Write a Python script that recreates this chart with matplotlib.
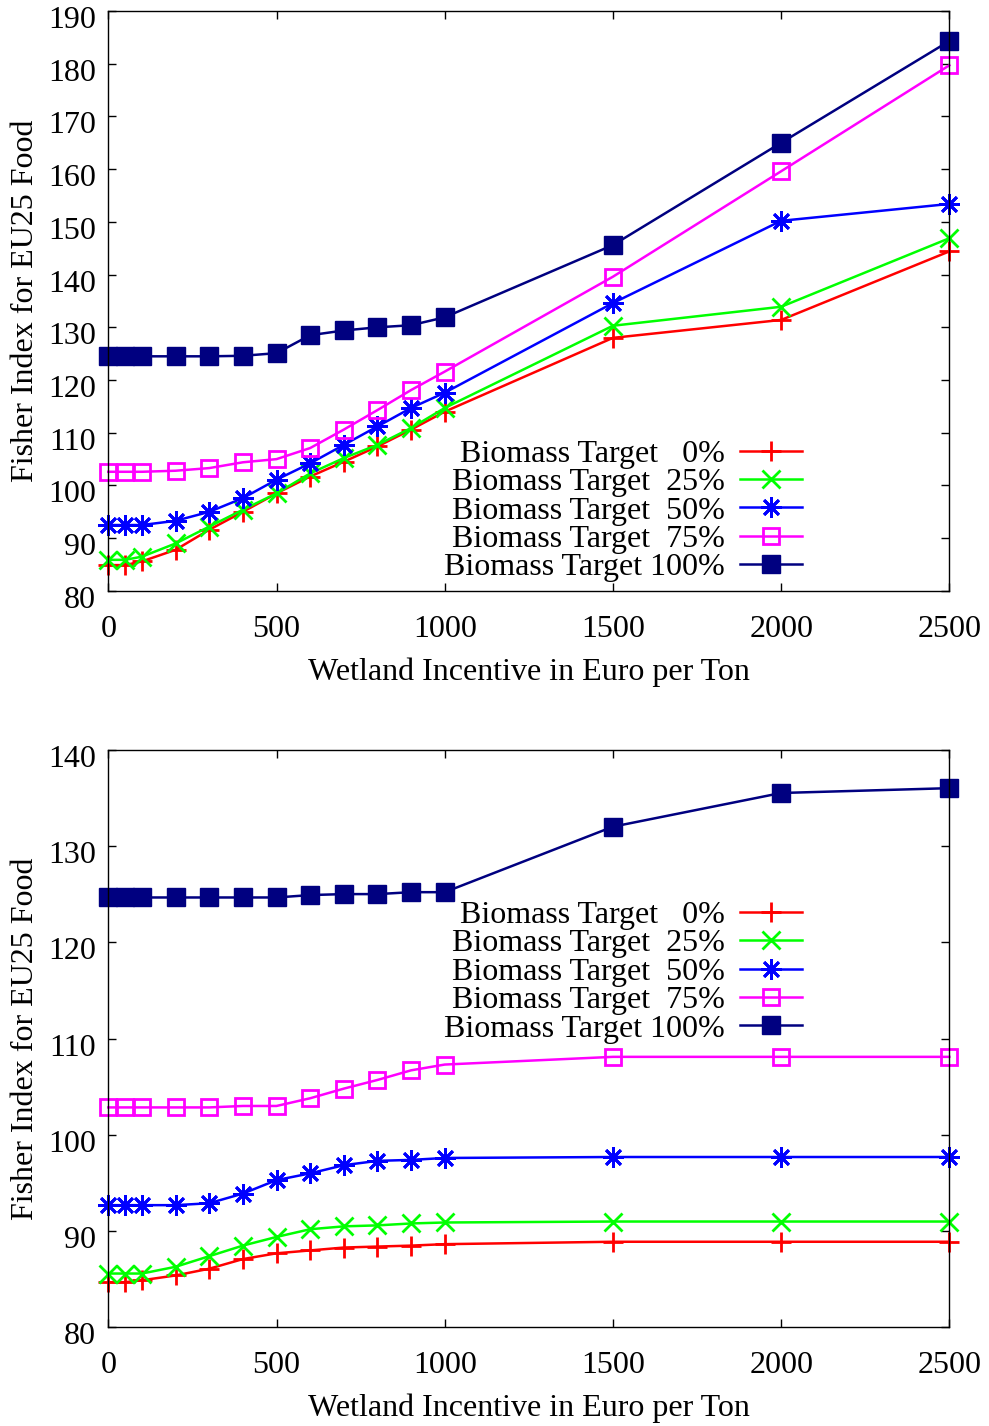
import numpy as np
import matplotlib
matplotlib.use("Agg")
import matplotlib.pyplot as plt
import matplotlib.transforms as mtransforms

plt.rcParams['font.family'] = ['Liberation Serif', 'DejaVu Serif']
plt.rcParams['font.size'] = 23

# wetland incentive (Euro per ton)
incentive = [0, 50, 100, 200, 300, 400, 500, 600, 700, 800, 900, 1000, 1500, 2000, 2500]

labels = ["Biomass Target   0%", "Biomass Target  25%", "Biomass Target  50%",
          "Biomass Target  75%", "Biomass Target 100%"]

# top panel
top_0 = [84.9, 84.9, 85.6, 87.8, 91.6, 95.0, 98.5, 101.7, 104.5, 107.4, 110.6, 114.0, 128.0, 131.4, 144.4]
top_25 = [85.9, 85.9, 86.5, 89.0, 92.2, 95.4, 98.5, 102.3, 105.2, 107.7, 110.9, 114.7, 130.3, 133.9, 146.9]
top_50 = [92.5, 92.5, 92.5, 93.3, 95.0, 97.6, 101.1, 104.2, 107.7, 111.2, 114.7, 117.6, 134.6, 150.2, 153.4]
top_75 = [102.6, 102.6, 102.6, 102.8, 103.3, 104.4, 105.0, 107.1, 110.6, 114.3, 118.1, 121.6, 139.6, 159.6, 179.7]
top_100 = [124.5, 124.5, 124.5, 124.5, 124.5, 124.6, 125.1, 128.5, 129.4, 130.0, 130.4, 131.9, 145.6, 165.0, 184.3]

# bottom panel
bot_0 = [84.7, 84.7, 84.9, 85.4, 86.1, 87.1, 87.7, 88.0, 88.3, 88.4, 88.5, 88.65, 88.9, 88.9, 88.9]
bot_25 = [85.6, 85.6, 85.6, 86.3, 87.4, 88.5, 89.4, 90.2, 90.5, 90.6, 90.8, 90.9, 91.0, 91.0, 91.0]
bot_50 = [92.7, 92.7, 92.7, 92.7, 92.9, 93.9, 95.3, 96.0, 96.85, 97.3, 97.4, 97.6, 97.7, 97.7, 97.7]
bot_75 = [102.85, 102.85, 102.85, 102.85, 102.85, 103.0, 103.0, 103.8, 104.8, 105.7, 106.7, 107.3, 108.1, 108.1, 108.1]
bot_100 = [124.65, 124.65, 124.65, 124.65, 124.65, 124.65, 124.65, 124.9, 125.0, 125.0, 125.2, 125.2, 132.0, 135.5, 136.0]

colors = ['#ff0000', '#00ff00', '#0000ff', '#ff00ff', '#000080']
styles = [
    dict(marker='+', markersize=15, markeredgewidth=2),
    dict(marker='x', markersize=13, markeredgewidth=2),
    dict(marker=(8, 2, 0), markersize=15, markeredgewidth=2),
    dict(marker='s', markersize=12, markeredgewidth=2, markerfacecolor='none'),
    dict(marker='s', markersize=13, markeredgewidth=1),
]


def draw_panel(fig, ax, series, ylim, yticks, legend_y):
    for vals, col, st, lab in zip(series, colors, styles, labels):
        ax.plot(incentive, vals, color=col, linewidth=1.8, label=lab,
                markeredgecolor=col, clip_on=False, **st)
    ax.set_xlim(0, 2500)
    ax.set_ylim(*ylim)
    ax.set_xticks([0, 500, 1000, 1500, 2000, 2500])
    ax.set_yticks(yticks)
    ax.tick_params(direction='in', length=6, width=1, top=True, right=True)
    ax.tick_params(axis='y', pad=9)
    ax.tick_params(axis='x', pad=17)
    # gnuplot places the y labels a little below their ticks
    shift = mtransforms.ScaledTranslation(0, -6 / 100, fig.dpi_scale_trans)
    for lbl in ax.get_yticklabels():
        lbl.set_transform(lbl.get_transform() + shift)
    for sp in ax.spines.values():
        sp.set_linewidth(1)
    ax.set_xlabel("Wetland Incentive in Euro per Ton", labelpad=10)
    ax.set_ylabel("Fisher Index for EU25 Food", labelpad=6)
    ax.legend(loc='center right', bbox_to_anchor=(0.825, legend_y), frameon=False,
              markerfirst=False, handlelength=1.95, handletextpad=0.47,
              labelspacing=-0.03, borderpad=0, borderaxespad=0)


fig = plt.figure(figsize=(9.89, 14.26), dpi=100)
ax1 = fig.add_axes([0.1095, 0.5856, 0.8504, 0.4067])
ax2 = fig.add_axes([0.1095, 0.0691, 0.8504, 0.4052])

draw_panel(fig, ax1, [top_0, top_25, top_50, top_75, top_100], (80, 190),
           np.arange(80, 191, 10), 0.138)
draw_panel(fig, ax2, [bot_0, bot_25, bot_50, bot_75, bot_100], (80, 140),
           np.arange(80, 141, 10), 0.615)

fig.savefig("out.png", dpi=100)
